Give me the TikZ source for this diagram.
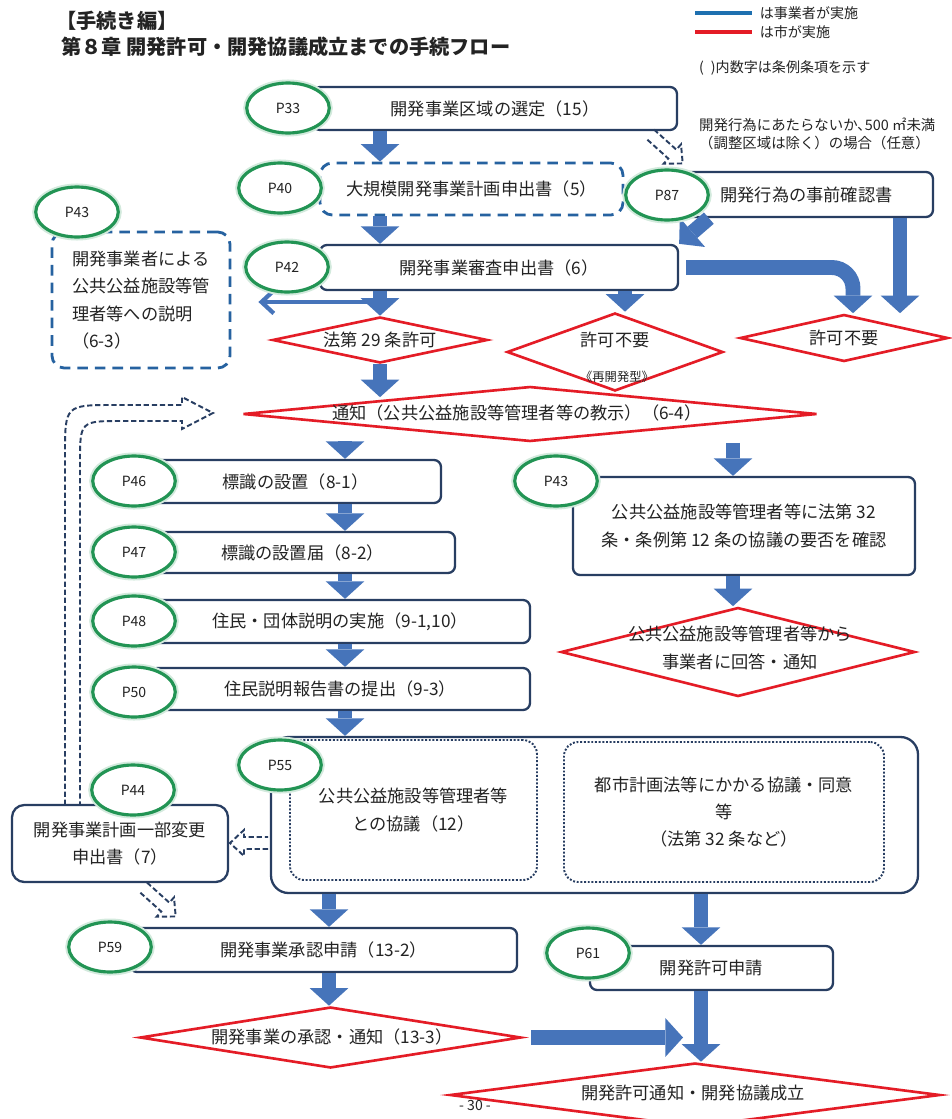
\documentclass[tikz,border=0pt]{standalone}
\usepackage{fontspec}
\setmainfont{Noto Sans CJK JP}
\usetikzlibrary{arrows.meta,shapes.geometric}

\definecolor{boxnavy}{RGB}{40,62,98}
\definecolor{arrowblue}{RGB}{70,116,186}
\definecolor{dashblue}{RGB}{38,98,160}
\definecolor{decred}{RGB}{228,28,38}
\definecolor{pgreen}{RGB}{34,148,84}
\definecolor{txtgray}{RGB}{35,35,35}
\definecolor{legblue}{RGB}{30,112,176}

\newcommand\boxfont{\fontsize{9.8}{15.5}\selectfont}
\newcommand\titlefont{\fontsize{11.5}{14}\selectfont\bfseries}
\newcommand\notefont{\fontsize{8.2}{10.2}\selectfont}
\newcommand\smallfont{\fontsize{8}{10}\selectfont}

\tikzset{
  pxsize/.style 2 args={minimum width=#1*0.02cm, minimum height=#2*0.02cm},
  procbox/.style={draw=boxnavy, line width=1.3pt, rounded corners=4pt, fill=white, inner sep=0pt, align=center, font=\boxfont},
  optbox/.style={procbox, draw=dashblue, line width=1.6pt, dash pattern=on 6pt off 4pt, rounded corners=7pt},
  dotbox/.style={draw=boxnavy, line width=1.1pt, densely dotted, rounded corners=8pt, inner sep=0pt, align=center, font=\boxfont},
  pagelabel/.style={ellipse, draw=pgreen, line width=1.8pt, fill=white, inner sep=0pt, minimum width=1.65cm, minimum height=1cm, font=\fontsize{8}{9}\selectfont, preaction={draw=pgreen!20, line width=4pt}},
  decision/.style={diamond, draw=decred, line width=1.5pt, aspect=1, inner sep=0pt, fill=white},
  dtext/.style={align=center, font=\boxfont, inner sep=0pt},
  bigarrow/.style={draw=arrowblue, line width=8.5pt, -{Triangle[length=10pt, width=22pt, line width=0pt]}},
  thinarrow/.style={draw=arrowblue, line width=2.4pt, -{Straight Barb[length=7pt, width=13pt]}},
  hollowline/.style={draw=boxnavy, line width=1.1pt, dash pattern=on 3pt off 1.6pt},
  pics/hollowarrow/.style={code={
    \draw[hollowline] (0,-6) -- (#1-14,-6) -- (#1-14,-13) -- (#1,0) -- (#1-14,13) -- (#1-14,6) -- (0,6);
  }}
}

\begin{document}
\begin{tikzpicture}[x=0.02cm, y=-0.02cm, every node/.append style={text=txtgray}]
\fill[white] (0,0) rectangle (951,1119);
\useasboundingbox (0,0) rectangle (951,1119);

% columns of the block arrows
\coordinate (cA) at (380,0);
\coordinate (cS) at (625,0);
\coordinate (cF) at (853,0);
\coordinate (cG) at (900,0);
\coordinate (cB) at (345,0);
\coordinate (cR) at (733,0);
\coordinate (cC) at (329,0);
\coordinate (cD) at (701,0);

% title and legend
\node[anchor=west, font=\titlefont] (ttl1) at (50,21) {【手続き編】};
\node[anchor=west, font=\titlefont] (ttl2) at (55,47) {第８章 開発許可・開発協議成立までの手続フロー};
\draw[draw=legblue, line width=2.2pt] (695,13) -- (752,13) node[right, font=\smallfont] (lgt1) {は事業者が実施};
\draw[draw=decred, line width=2.2pt] (695,32) -- (752,32) node[right, font=\smallfont] (lgt2) {は市が実施};
\node[anchor=west, font=\smallfont] (lgt3) at (693,68) {(\enspace)内数字は条例条項を示す};

% upper part
\node[procbox, pxsize={364}{43}] (b33) at (495,108.5) {開発事業区域の選定（15）};
\node[optbox, pxsize={303}{52}] (b40) at (471.5,189) {大規模開発事業計画申出書（5）};
\node[procbox, pxsize={358}{45}] (b42) at (499,267.5) {開発事業審査申出書（6）};
\node[procbox, pxsize={253}{45}] (b87) at (806.5,194.5) {開発行為の事前確認書};
\node[anchor=west, align=left, font=\notefont] (n87) at (693,134) {開発行為にあたらないか､500 ㎡未満\\（調整区域は除く）の場合（任意）};
\node[optbox, pxsize={178}{136}, align=left] (b43l) at (141,300) {開発事業者による\\公共公益施設等管\\理者等への説明\\（6-3）};

\node[decision, pxsize={215}{46}] (d29) at (380,340) {};
\node[dtext] (d29t) at (d29) {法第 29 条許可};
\node[decision, pxsize={216}{78}] (dsai) at (615,352) {};
\node[dtext] (dsait) at (615,340) {許可不要};
\node[dtext, font=\fontsize{7}{8}\selectfont] (dsais) at (617,377) {《再開発型》};
\node[decision, pxsize={208}{47}] (dfuyo) at (844,338) {};
\node[dtext] (dfuyot) at (dfuyo) {許可不要};
\node[decision, pxsize={574}{55}] (tsuchi) at (530,414) {};
\node[dtext] (tsuchit) at (517,413) {通知（公共公益施設等管理者等の教示）（6-4）};

% middle part
\node[procbox, pxsize={291}{43}] (b46) at (295.5,481.5) {標識の設置（8-1）};
\node[procbox, pxsize={305}{41}] (b47) at (302.5,552.5) {標識の設置届（8-2）};
\node[procbox, pxsize={380}{43}] (b48) at (340,621.5) {住民・団体説明の実施（9-1,10）};
\node[procbox, pxsize={380}{42}] (b50) at (340,689) {住民説明報告書の提出（9-3）};
\node[procbox, pxsize={342}{98}] (b43r) at (744,526) {公共公益施設等管理者等に法第 32\\条・条例第 12 条の協議の要否を確認};
\node[decision, pxsize={354}{89}] (dkaito) at (738,652) {};
\node[dtext] (dkaitot) at (740,648) {公共公益施設等管理者等から\\事業者に回答・通知};

\node[procbox, rounded corners=10pt, pxsize={647}{156}] (b55) at (594.5,815) {};
\node[dotbox, pxsize={247}{140}] (dot1) at (413.5,810) {公共公益施設等管理者等\\との協議（12）};
\node[dotbox, pxsize={320}{140}] (dot2) at (724,812) {都市計画法等にかかる協議・同意\\等\\（法第 32 条など）};
\node[procbox, rounded corners=7pt, pxsize={216}{77}] (b44) at (120,843.5) {開発事業計画一部変更\\申出書（7）};

% lower part
\node[procbox, pxsize={387}{44}] (b59) at (323.5,950) {開発事業承認申請（13-2）};
\node[procbox, pxsize={243}{44}] (b61) at (711.5,968) {開発許可申請};
\node[decision, pxsize={381}{61}] (d133) at (330.5,1037.5) {};
\node[dtext] (d133t) at (332,1037) {開発事業の承認・通知（13-3）};
\node[decision, pxsize={490}{64}] (dfinal) at (695,1095) {};
\node[dtext] (dfinalt) at (693,1093) {開発許可通知・開発協議成立};
\node[font=\smallfont] (pageno) at (475,1105) {- 30 -};

% block arrows
\draw[bigarrow] (b33.south -| cA) -- (b40.north -| cA);
\draw[bigarrow] (b40.south -| cA) -- (b42.north -| cA);
\draw[bigarrow] (b42.south -| cA) -- (d29.north);
\draw[bigarrow] (b42.south -| cS) -- (dsai.north -| cS);
\draw[bigarrow, rounded corners=12pt] ([xshift=0.14cm]b42.east) -| (dfuyo.north -| cF);
\draw[bigarrow] (b87.south -| cG) -- (dfuyo.north -| cG);
\draw[bigarrow] ([xshift=0.6cm]b87.south west) -- (b42.north east);
\coordinate (j42) at (374,302);
\draw[thinarrow] (j42) -- ([xshift=0.54cm]b43l.east |- j42);
\draw[bigarrow, shorten >=-0.24cm] (d29.south) -- (tsuchi.north -| cA);
\draw[bigarrow] (tsuchi.south -| cB) -- (b46.north -| cB);
\draw[bigarrow] (b46.south -| cB) -- (b47.north -| cB);
\draw[bigarrow] (b47.south -| cB) -- (b48.north -| cB);
\draw[bigarrow] (b48.south -| cB) -- (b50.north -| cB);
\draw[bigarrow] (b50.south -| cB) -- (b55.north -| cB);
\draw[bigarrow] (tsuchi.south -| cR) -- (b43r.north -| cR);
\draw[bigarrow] (b43r.south -| cR) -- (dkaito.north -| cR);
\draw[bigarrow] (b55.south -| cC) -- (b59.north -| cC);
\draw[bigarrow] (b59.south -| cC) -- (d133.north -| cC);
\draw[bigarrow] (b55.south -| cD) -- (b61.north -| cD);
\draw[bigarrow] (b61.south -| cD) -- (dfinal.north -| cD);
\draw[bigarrow] ([xshift=0.18cm]d133.east) -- ([xshift=-0.36cm]d133.east -| cD);

% hollow dashed arrows
\pic[rotate=-42] at (650,134) {hollowarrow=44};
\pic[rotate=-42] at (143,887) {hollowarrow=44};
\pic[rotate=180] at (268,843) {hollowarrow=38};
\draw[hollowline] (65,805) -- (65,455) .. controls (65,405) .. (115,405) -- (182,405) -- (182,397)
  -- (213,413) -- (182,429) -- (182,421) -- (122,421) .. controls (80,421) .. (80,463) -- (80,805);

% page labels
\node[pagelabel] (p33) at (288,108) {P33};
\node[pagelabel] (p40) at (280,188) {P40};
\node[pagelabel] (p42) at (287,267) {P42};
\node[pagelabel] (p87) at (667,195) {P87};
\node[pagelabel] (p43l) at (77,212) {P43};
\node[pagelabel] (p46) at (134,481) {P46};
\node[pagelabel] (p47) at (134,552) {P47};
\node[pagelabel] (p48) at (134,621) {P48};
\node[pagelabel] (p50) at (134,692) {P50};
\node[pagelabel] (p43r) at (556,481) {P43};
\node[pagelabel] (p55) at (280,765) {P55};
\node[pagelabel] (p44) at (133,790) {P44};
\node[pagelabel] (p59) at (110,947) {P59};
\node[pagelabel] (p61) at (588,953) {P61};
\end{tikzpicture}
\end{document}
